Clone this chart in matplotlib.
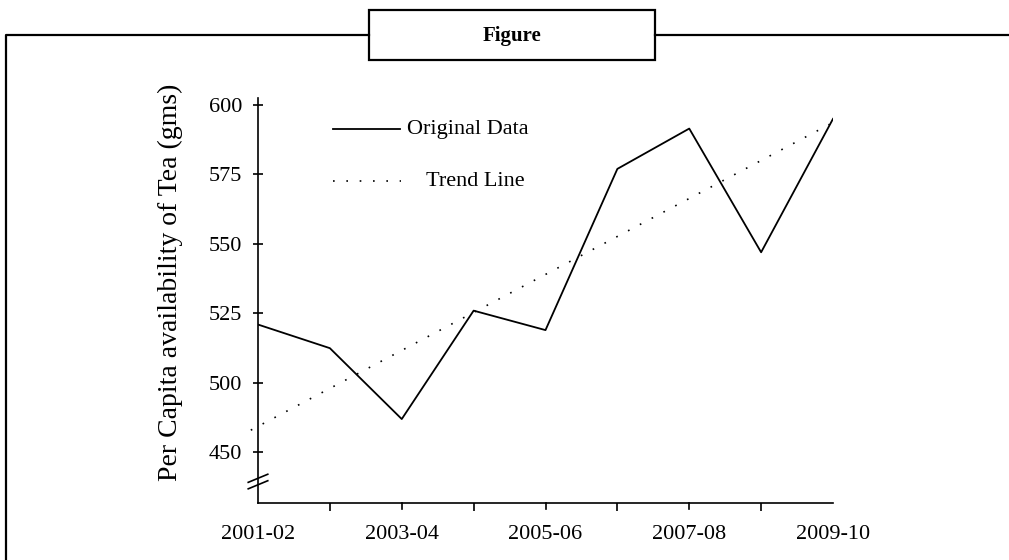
import matplotlib
matplotlib.use("Agg")
import matplotlib.pyplot as plt
from matplotlib.lines import Line2D
from matplotlib.patches import Rectangle

plt.rcParams['font.family'] = ['Liberation Serif', 'DejaVu Serif']

# per capita availability of tea, grams per year
years = ['2001-02', '2002-03', '2003-04', '2004-05', '2005-06',
         '2006-07', '2007-08', '2008-09', '2009-10']
tea = [521, 512.5, 487, 526, 519, 577, 591.5, 547, 595]

# straight trend line, end points
trend_x = [-0.1, 7.95]
trend_y = [483, 593]

ytick_pos = [475, 500, 525, 550, 575, 600]
ytick_lab = ['450', '500', '525', '550', '575', '600']

W, H = 1009, 560
fig = plt.figure(figsize=(W / 100, H / 100), dpi=100)

# outer frame with the caption box on top
def fx(px):
    return px / W

def fy(py):
    return 1 - py / H

fig.add_artist(Line2D([fx(6), fx(6), fx(369)], [0, fy(35), fy(35)],
                      color='black', lw=1.6))
fig.add_artist(Line2D([fx(655), 1], [fy(35), fy(35)], color='black', lw=1.6))
fig.add_artist(Rectangle((fx(369), fy(60)), fx(655) - fx(369), fy(10) - fy(60),
                         fill=False, edgecolor='black', lw=1.6))
fig.text(fx(512), fy(36), 'Figure', ha='center', va='center',
         fontsize=15, fontweight='bold')

ax = fig.add_axes([258 / W, 57 / H, 575 / W, 405 / H])
x = list(range(len(years)))
ax.plot(x, tea, color='black', lw=1.3)
ax.plot(trend_x, trend_y, color='black', lw=1.2, linestyle=(0, (1, 7)),
        clip_on=False)

ax.set_xlim(0, 8)
ax.set_ylim(456.8, 602.5)
ax.spines['top'].set_visible(False)
ax.spines['right'].set_visible(False)
ax.spines['left'].set_linewidth(1.2)
ax.spines['bottom'].set_linewidth(1.2)

ax.set_yticks(ytick_pos, ytick_lab)
ax.tick_params(axis='y', direction='inout', length=7, width=1.2, pad=8,
               labelsize=16)
ax.set_xticks(x[::2], years[::2])
ax.set_xticks(x[1:-1], minor=True)
ax.tick_params(axis='x', which='major', length=0, pad=16, labelsize=16)
ax.tick_params(axis='x', which='minor', direction='out', length=6, width=1.2)
# put back the ticks under the inner labels
for xi in x[2:-1:2]:
    ax.plot([xi, xi], [0, -0.016], color='black', lw=1.2,
            transform=ax.get_xaxis_transform(), clip_on=False)

ax.set_ylabel('Per Capita availability of Tea (gms)', fontsize=20)
ax.yaxis.set_label_coords(-0.13, 0.545)

# axis break marks
for dy in (-0.008, 0.008):
    ax.plot([-0.017, 0.017], [0.043 + dy, 0.063 + dy], color='black', lw=1.2,
            transform=ax.transAxes, clip_on=False)

# legend drawn by hand
ax.plot([0.130, 0.247], [0.923, 0.923], color='black', lw=1.3,
        transform=ax.transAxes)
ax.text(0.259, 0.923, 'Original Data', transform=ax.transAxes,
        va='center', ha='left', fontsize=16)
ax.plot([0.130, 0.248], [0.795, 0.795], color='black', lw=1.2,
        linestyle=(0, (1, 7)), transform=ax.transAxes)
ax.text(0.292, 0.795, 'Trend Line', transform=ax.transAxes,
        va='center', ha='left', fontsize=16)

fig.savefig('out.png', dpi=100)
